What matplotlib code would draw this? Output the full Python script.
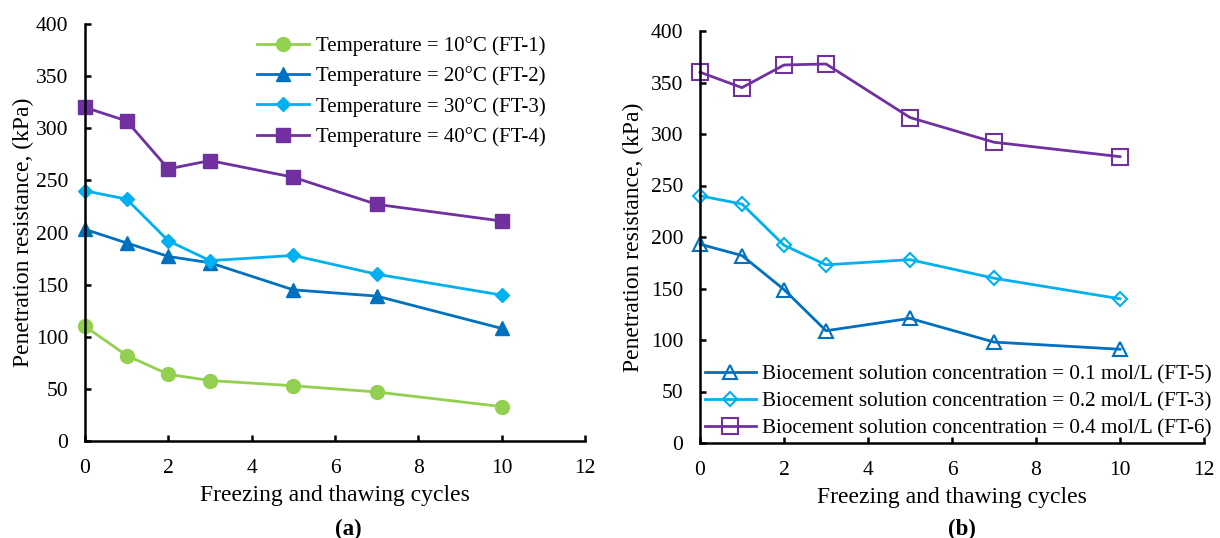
import matplotlib
matplotlib.use("Agg")
import matplotlib.pyplot as plt

plt.rcParams['font.family'] = ['Liberation Serif', 'DejaVu Serif']

cycles = [0, 1, 2, 3, 5, 7, 10]

# Panel (a): temperature
ft1 = [110, 82, 64, 58, 53, 47, 33]
ft2 = [203, 190, 177, 171, 145, 139, 108]
ft3 = [240, 232, 192, 173, 178, 160, 140]
ft4 = [320, 307, 261, 269, 253, 227, 211]
labels_a = ["Temperature = 10°C (FT-1)", "Temperature = 20°C (FT-2)",
            "Temperature = 30°C (FT-3)", "Temperature = 40°C (FT-4)"]

# Panel (b): biocement concentration
ft5 = [193, 182, 149, 109, 121, 98, 91]
ft3b = [240, 232, 192, 173, 178, 160, 140]
ft6 = [360, 345, 367, 368, 316, 292, 278]
labels_b = ["Biocement solution concentration = 0.1 mol/L (FT-5)",
            "Biocement solution concentration = 0.2 mol/L (FT-3)",
            "Biocement solution concentration = 0.4 mol/L (FT-6)"]

xticks = [0, 2, 4, 6, 8, 10, 12]
yticks = [0, 50, 100, 150, 200, 250, 300, 350, 400]

green = '#92D050'
dblue = '#0070C0'
lblue = '#00B0F0'
purple = '#7030A0'

W, H = 1220, 538
fig = plt.figure(figsize=(W / 100, H / 100), dpi=100)

def px_axes(l, r, t, b):
    return fig.add_axes([l / W, 1 - b / H, (r - l) / W, (b - t) / H])

axa = px_axes(85, 585, 24, 441)
axb = px_axes(700, 1204, 31, 443)

tfs = 15.5
lfs = 17

def style(ax, ylpad):
    ax.set_xlim(0, 12)
    ax.set_ylim(0, 400)
    ax.set_xticks(xticks)
    ax.set_yticks(yticks)
    for s in ['top', 'right']:
        ax.spines[s].set_visible(False)
    for s in ['left', 'bottom']:
        ax.spines[s].set_linewidth(1.8)
    ax.tick_params(direction='in', length=4, width=1.8, labelsize=tfs, pad=12)
    ax.tick_params(axis='x', pad=13)
    ax.set_xlabel("Freezing and thawing cycles", fontsize=lfs, labelpad=5)
    ax.set_ylabel("Penetration resistance, (kPa)", fontsize=lfs, labelpad=ylpad)
    ax.patch.set_alpha(0)

lw = 2.0
axa.plot(cycles, ft1, color=green, lw=lw, marker='o', ms=10, clip_on=False, label=labels_a[0])
axa.plot(cycles, ft2, color=dblue, lw=lw, marker='^', ms=10, clip_on=False, label=labels_a[1])
axa.plot(cycles, ft3, color=lblue, lw=lw, marker='D', ms=7, clip_on=False, label=labels_a[2])
axa.plot(cycles, ft4, color=purple, lw=lw, marker='s', ms=10, clip_on=False, label=labels_a[3])
style(axa, 1)
axa.legend(loc='upper left', bbox_to_anchor=(257 / W, 1 - 36 / H), bbox_transform=fig.transFigure,
           frameon=False, fontsize=15, borderpad=0, borderaxespad=0,
           handlelength=2.5, handletextpad=0.35, labelspacing=0.5)

axb.plot(cycles, ft5, color=dblue, lw=lw, marker='^', ms=10, mfc='none', mew=1.5, clip_on=False, label=labels_b[0])
axb.plot(cycles, ft3b, color=lblue, lw=lw, marker='D', ms=7, mfc='none', mew=1.5, clip_on=False, label=labels_b[1])
axb.plot(cycles, ft6, color=purple, lw=lw, marker='s', ms=11, mfc='none', mew=1.5, clip_on=False, label=labels_b[2])
style(axb, 5)
axb.legend(loc='upper left', bbox_to_anchor=(705 / W, 1 - 365 / H), bbox_transform=fig.transFigure,
           frameon=False, fontsize=15.2, borderpad=0, borderaxespad=0,
           handlelength=2.4, handletextpad=0.3, labelspacing=0.34)

fig.text(348 / W, 1 - 529 / H, "(a)", ha='center', va='center', fontsize=16.5, fontweight='bold')
fig.text(962 / W, 1 - 529 / H, "(b)", ha='center', va='center', fontsize=16.5, fontweight='bold')

fig.savefig("out.png", dpi=100)
